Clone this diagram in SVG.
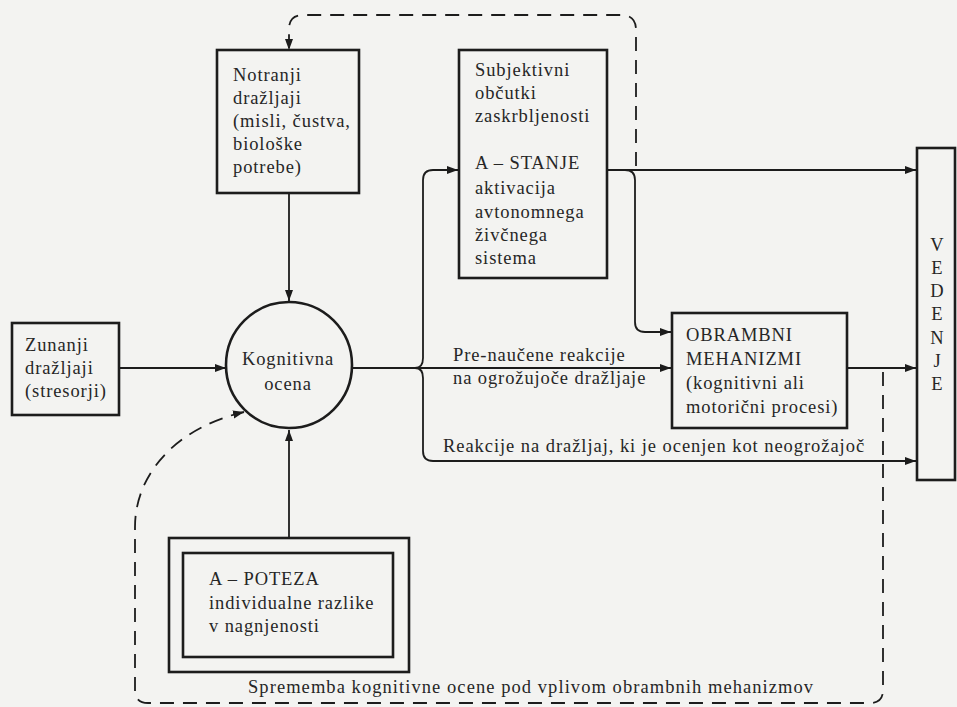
<svg xmlns="http://www.w3.org/2000/svg" width="957" height="707" viewBox="0 0 957 707">
<defs>
<style>
.bg{fill:#f3f3f1}
.box{fill:none;stroke:#1c1c1c;stroke-width:2.6}
.ln{fill:none;stroke:#1c1c1c;stroke-width:1.8}
.dash{fill:none;stroke:#1c1c1c;stroke-width:1.8;stroke-dasharray:14 9}
text{font-family:"Liberation Serif","Times New Roman",serif;font-size:18.5px;fill:#262626;letter-spacing:0.9px}
.c{text-anchor:middle;letter-spacing:0}
</style>
<marker id="ah" markerUnits="userSpaceOnUse" markerWidth="12" markerHeight="10" refX="11" refY="5" orient="auto">
<path d="M0,1 L11,5 L0,9 Z" fill="#1c1c1c"/>
</marker>
</defs>
<rect class="bg" x="0" y="0" width="957" height="707"/>

<g id="connectors">
<path class="ln" d="M119,368 H226" marker-end="url(#ah)"/>
<path class="ln" d="M289,193 V301" marker-end="url(#ah)"/>
<path class="ln" d="M289,538 V430" marker-end="url(#ah)"/>
<path class="ln" d="M352,368 H671" marker-end="url(#ah)"/>
<path class="ln" d="M415,368 Q423,368 423,358 V180 Q423,170 433,170 H458" marker-end="url(#ah)"/>
<path class="ln" d="M415,368 Q423,368 423,378 V451 Q423,461 433,461 H916" marker-end="url(#ah)"/>
<path class="ln" d="M607,170 H916" marker-end="url(#ah)"/>
<path class="ln" d="M607,170 H625 Q635,170 635,180 V322 Q635,332 645,332 H671" marker-end="url(#ah)"/>
<path class="ln" d="M847,368 H916" marker-end="url(#ah)"/>
<path class="dash" d="M636,166 V30 Q636,15 621,15 H303 Q289,15 289,29 V50" marker-end="url(#ah)"/>
<path class="dash" d="M883,372 V690 Q883,703 870,703 H148 Q135,703 135,690 V527 C135,475 175,428 244,412" marker-end="url(#ah)"/>
</g>

<g id="zunanji">
<rect class="box" x="12" y="323" width="107" height="92"/>
<text x="25" y="351">Zunanji</text>
<text x="25" y="374">dražljaji</text>
<text x="25" y="397">(stresorji)</text>
</g>

<g id="notranji">
<rect class="box" x="217" y="50" width="142" height="143"/>
<text x="233" y="81">Notranji</text>
<text x="233" y="104">dražljaji</text>
<text x="233" y="127">(misli, čustva,</text>
<text x="233" y="150">biološke</text>
<text x="233" y="173">potrebe)</text>
</g>

<g id="kognitivna">
<circle class="box" cx="289" cy="365" r="63"/>
<text class="c" x="288" y="365" style="letter-spacing:0.9px">Kognitivna</text>
<text class="c" x="288" y="390" style="letter-spacing:0.9px">ocena</text>
</g>

<g id="subjektivni">
<rect class="box" x="459" y="50" width="148" height="228"/>
<text x="475" y="76">Subjektivni</text>
<text x="475" y="99">občutki</text>
<text x="475" y="122">zaskrbljenosti</text>
<text x="475" y="169">A – STANJE</text>
<text x="475" y="194">aktivacija</text>
<text x="475" y="218">avtonomnega</text>
<text x="475" y="241">živčnega</text>
<text x="475" y="264">sistema</text>
</g>

<g id="obrambni">
<rect class="box" x="672" y="313" width="175" height="115"/>
<text x="686" y="341">OBRAMBNI</text>
<text x="686" y="365">MEHANIZMI</text>
<text x="686" y="389">(kognitivni ali</text>
<text x="686" y="413">motorični procesi)</text>
</g>

<g id="vedenje">
<rect class="box" x="917" y="148" width="38" height="332"/>
<text class="c" x="937" y="251">V</text>
<text class="c" x="937" y="274">E</text>
<text class="c" x="937" y="297">D</text>
<text class="c" x="937" y="320">E</text>
<text class="c" x="937" y="344">N</text>
<text class="c" x="937" y="367">J</text>
<text class="c" x="937" y="390">E</text>
</g>

<g id="apoteza">
<rect class="box" x="169" y="538" width="240" height="134"/>
<rect class="box" x="183" y="553" width="210" height="104"/>
<text x="209" y="585">A – POTEZA</text>
<text x="209" y="609">individualne razlike</text>
<text x="209" y="632">v nagnjenosti</text>
</g>

<g id="labels">
<text x="453" y="361">Pre-naučene reakcije</text>
<text x="453" y="384">na ogrožujoče dražljaje</text>
<text x="443" y="452" textLength="422" lengthAdjust="spacing">Reakcije na dražljaj, ki je ocenjen kot neogrožajoč</text>
<text x="248" y="693" textLength="566" lengthAdjust="spacing">Sprememba kognitivne ocene pod vplivom obrambnih mehanizmov</text>
</g>
</svg>
